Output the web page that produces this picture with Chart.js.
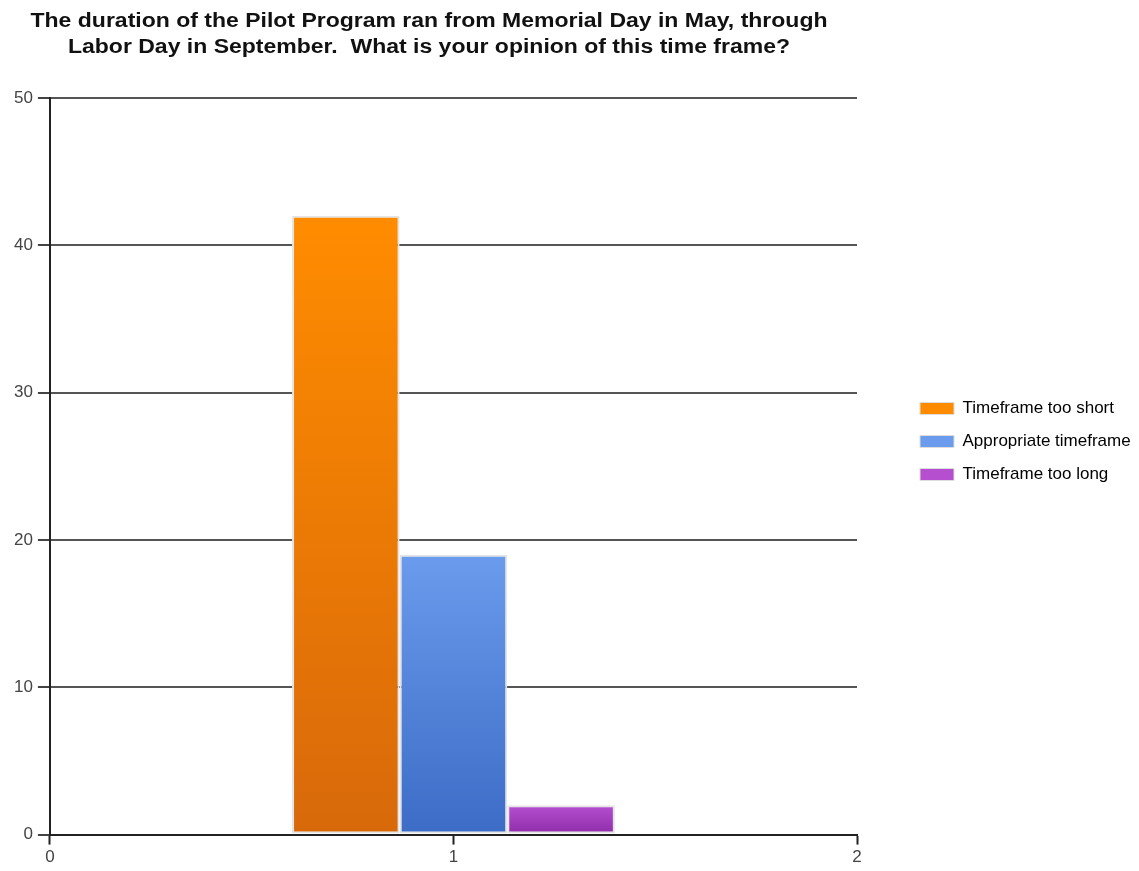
<!DOCTYPE html>
<html>
<head>
<meta charset="utf-8">
<script src="https://cdn.jsdelivr.net/npm/chart.js@4.4.0/dist/chart.umd.min.js"></script>
<style>
  html, body { margin: 0; padding: 0; background: #fff; }
  #wrap { width: 1139px; height: 871px; }
</style>
</head>
<body>
<div id="wrap"><canvas id="survey-chart"></canvas></div>
<script>
// chart data
const title_lines = [
  'The duration of the Pilot Program ran from Memorial Day in May, through',
  'Labor Day in September.  What is your opinion of this time frame?'
];
const x_labels = ['0', '1', '2'];
const series_names = ['Timeframe too short', 'Appropriate timeframe', 'Timeframe too long'];
const series_values = [42, 19, 2];
const y_ticks = [0, 10, 20, 30, 40, 50];

// top / bottom colours of each bar gradient
const bar_colors = [
  ['#ff8c00', '#d8690a'],
  ['#6a9bec', '#3c6cc6'],
  ['#b54fd0', '#8e2ca8']
];

const font_family = '"Liberation Sans", Arial, sans-serif';

// fill a bar from top to bottom with its own gradient
function bar_gradient(i) {
  return (ctx) => {
    const chart = ctx.chart;
    const area = chart.chartArea;
    if (!area || !ctx.parsed || ctx.parsed.y == null) return bar_colors[i][0];
    const y_scale = chart.scales.y;
    const top = y_scale.getPixelForValue(ctx.parsed.y);
    const bottom = y_scale.getPixelForValue(0);
    const g = chart.ctx.createLinearGradient(0, top, 0, bottom);
    g.addColorStop(0, bar_colors[i][0]);
    g.addColorStop(1, bar_colors[i][1]);
    return g;
  };
}

const datasets = series_names.map((name, i) => ({
  label: name,
  data: x_labels.map((lbl) => (lbl === '1' ? series_values[i] : null)),
  backgroundColor: bar_gradient(i),
  borderColor: '#e4e4e4',
  borderWidth: 2,
  borderSkipped: false,
  barPercentage: 1.0,
  categoryPercentage: 0.8
}));

// title drawn centred over the plot (the built-in title only reserves the room)
// the original title is a bit stretched sideways, hence the scale
const title_plugin = {
  id: 'plot_title',
  afterDraw(chart) {
    const c = chart.ctx;
    c.save();
    c.fillStyle = '#111';
    c.font = 'bold 20px ' + font_family;
    c.textAlign = 'center';
    c.textBaseline = 'top';
    c.translate(429, 0);
    c.scale(1.15, 1);
    title_lines.forEach((line, k) => {
      c.fillText(line, 0, 11 + k * 26);
    });
    c.restore();
  }
};

// make the legend column wider, and leave a gap between plot and legend items
const legend_room = 282;
const legend_gap = 47;
const legend_gap_plugin = {
  id: 'legend_gap',
  beforeLayout(chart) {
    const lg = chart.legend;
    if (lg && !lg._wide) {
      const fit = lg.fit.bind(lg);
      lg.fit = function () {
        fit();
        this.width = legend_room;
      };
      lg._wide = true;
    }
  },
  afterLayout(chart) {
    const lg = chart.legend;
    lg.left = chart.chartArea.right + legend_gap;
    lg.top += 6;
    lg.bottom += 6;
  }
};

const ctx = document.getElementById('survey-chart');
const chart = new Chart(ctx, {
  type: 'bar',
  data: {
    labels: x_labels,
    datasets: datasets
  },
  options: {
    responsive: true,
    maintainAspectRatio: false,
    animation: false,
    layout: {
      padding: { top: 0, left: 9, right: 0, bottom: 0 }
    },
    plugins: {
      title: {
        display: true,
        text: '',
        fullSize: false,
        font: { size: 10, lineHeight: 1 },
        padding: { top: 88, bottom: 0 }
      },
      tooltip: { enabled: false },
      legend: {
        position: 'right',
        labels: {
          boxWidth: 34,
          boxHeight: 12,
          padding: 16,
          color: '#222',
          font: { family: font_family, size: 17 },
          generateLabels: (chart) => series_names.map((name, i) => ({
            text: name,
            fillStyle: bar_colors[i][0],
            strokeStyle: '#dddddd',
            lineWidth: 1,
            hidden: false,
            datasetIndex: i
          }))
        }
      }
    },
    scales: {
      x: {
        type: 'category',
        offset: false,
        grid: {
          display: true,
          offset: false,
          drawOnChartArea: false,
          drawTicks: true,
          tickLength: 10,
          tickWidth: 2,
          tickColor: '#222'
        },
        border: { display: true, color: '#222', width: 2 },
        ticks: {
          color: '#444',
          font: { family: font_family, size: 17 },
          padding: 3,
          maxRotation: 0
        }
      },
      y: {
        min: 0,
        max: 50,
        afterBuildTicks: (axis) => {
          axis.ticks = y_ticks.map((v) => ({ value: v }));
        },
        grid: {
          color: '#555',
          lineWidth: 2,
          drawTicks: true,
          tickLength: 12,
          tickColor: '#444'
        },
        border: { display: true, color: '#222', width: 2 },
        ticks: {
          color: '#444',
          font: { family: font_family, size: 17 },
          padding: 5
        }
      }
    }
  },
  plugins: [title_plugin, legend_gap_plugin]
});
</script>
</body>
</html>
